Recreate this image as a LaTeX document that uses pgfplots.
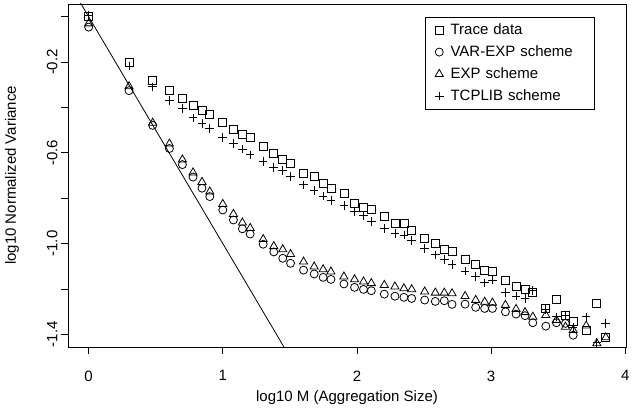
\documentclass[border=0pt]{standalone}
\usepackage{fontspec}
\setmainfont{Liberation Sans}
\usepackage{pgfplots}
\usepackage{pgfplotstable}
\pgfplotsset{compat=1.18}
\newcommand\fs{\fontsize{15}{18}\selectfont}

% log10 M, trace, var-exp, exp, tcplib
\pgfplotstableread{
x        trace   varexp  exp     tcp
0.00000  0.000  -0.046  -0.030   0.005
0.30103 -0.200  -0.326  -0.307  -0.218
0.47712 -0.280  -0.479  -0.468  -0.309
0.60206 -0.326  -0.581  -0.560  -0.370
0.69897 -0.361  -0.652  -0.630  -0.404
0.77815 -0.392  -0.707  -0.687  -0.446
0.84510 -0.413  -0.756  -0.729  -0.472
0.90309 -0.432  -0.793  -0.771  -0.492
1.00000 -0.467  -0.852  -0.826  -0.532
1.07918 -0.495  -0.896  -0.870  -0.559
1.14613 -0.521  -0.935  -0.908  -0.583
1.20412 -0.534  -0.958  -0.932  -0.609
1.30103 -0.573  -1.003  -0.981  -0.638
1.38021 -0.604  -1.037  -1.012  -0.666
1.44716 -0.627  -1.065  -1.026  -0.679
1.50515 -0.645  -1.087  -1.047  -0.704
1.60206 -0.689  -1.117  -1.080  -0.741
1.68124 -0.706  -1.134  -1.102  -0.766
1.74819 -0.737  -1.149  -1.114  -0.790
1.80618 -0.759  -1.158  -1.124  -0.810
1.90309 -0.781  -1.178  -1.146  -0.832
1.98227 -0.822  -1.193  -1.158  -0.859
2.04922 -0.840  -1.202  -1.168  -0.878
2.10721 -0.848  -1.208  -1.175  -0.903
2.20412 -0.881  -1.223  -1.183  -0.933
2.28330 -0.910  -1.232  -1.190  -0.955
2.35025 -0.913  -1.237  -1.198  -0.962
2.40824 -0.940  -1.242  -1.202  -0.987
2.50515 -0.977  -1.249  -1.212  -1.021
2.58433 -0.999  -1.255  -1.217  -1.050
2.65128 -1.024  -1.252  -1.217  -1.069
2.70927 -1.034  -1.268  -1.220  -1.091
2.80618 -1.068  -1.267  -1.232  -1.121
2.88536 -1.091  -1.281  -1.249  -1.146
2.95231 -1.117  -1.286  -1.257  -1.173
3.01030 -1.121  -1.286  -1.261  -1.161
3.10721 -1.164  -1.301  -1.271  -1.217
3.18639 -1.187  -1.311  -1.289  -1.232
3.25334 -1.201  -1.318  -1.303  -1.242
3.31133 -1.217  -1.349  -1.323  -1.208
3.40824 -1.286  -1.364  -1.316  -1.290
3.48742 -1.246  -1.349  -1.337  -1.323
3.55437 -1.315  -1.352  -1.367  -1.315
3.61236 -1.342  -1.404  -1.382  -1.369
3.70927 -1.384  -1.470  -1.362  -1.323
3.78845 -1.265  -1.480  -1.440  -1.435
3.85540 -1.414  -1.475  -1.414  -1.352
}\vardata

\begin{document}
\begin{tikzpicture}
\path[use as bounding box] (-68pt,-61pt) rectangle (573pt,347pt);
\begin{axis}[
  at={(0pt,0pt)}, anchor=south west,
  width=558pt, height=343pt, scale only axis,
  xmin=-0.154, xmax=4.006, ymin=-1.456, ymax=0.056,
  axis line style={line width=0.8pt},
  tick style={line width=0.8pt, black},
  tick align=outside, major tick length=7pt,
  xtick pos=bottom, ytick pos=left,
  xtick={0,1,2,3,4}, xticklabels={0,1,2,3,4},
  xticklabel style={yshift=-13pt},
  ytick={-1.4,-1.2,-1.0,-0.8,-0.6,-0.4,-0.2,0},
  yticklabels={-1.4,,-1.0,,-0.6,,-0.2,},
  yticklabel style={rotate=90, anchor=south},
  tick label style={font=\fs},
  label style={font=\fs},
  xlabel={log10 M (Aggregation Size)},
  ylabel={log10 Normalized Variance},
  xlabel style={at={(axis description cs:0.5,-0.1487)}, anchor=center},
  ylabel style={at={(axis description cs:-0.1004,0.5)}, anchor=center},
  legend style={at={(0.9444,0.963)}, anchor=north east, draw=black,
    line width=0.8pt, font=\fs, row sep=8pt, inner xsep=10pt, inner ysep=6pt,
    nodes={inner sep=0pt, text height=11pt, text depth=3pt, text width=134pt},
    /tikz/every odd column/.append style={column sep=7pt}},
  legend cell align=left,
  every axis plot/.append style={black, line width=0.8pt},
]
\addplot[only marks, mark=square, mark size=4pt] table[x=x,y=trace] {\vardata};
\addlegendentry{Trace data}
\addplot[only marks, mark=o, mark size=4pt] table[x=x,y=varexp] {\vardata};
\addlegendentry{VAR-EXP scheme}
\addplot[only marks, mark=triangle, mark size=4.7pt] table[x=x,y=exp] {\vardata};
\addlegendentry{EXP scheme}
\addplot[only marks, mark=+, mark size=4.3pt] table[x=x,y=tcp] {\vardata};
\addlegendentry{TCPLIB scheme}
\addplot[black, line width=0.8pt, forget plot] coordinates {(-0.2,0.2) (1.6,-1.6)};
\end{axis}
\end{tikzpicture}
\end{document}
